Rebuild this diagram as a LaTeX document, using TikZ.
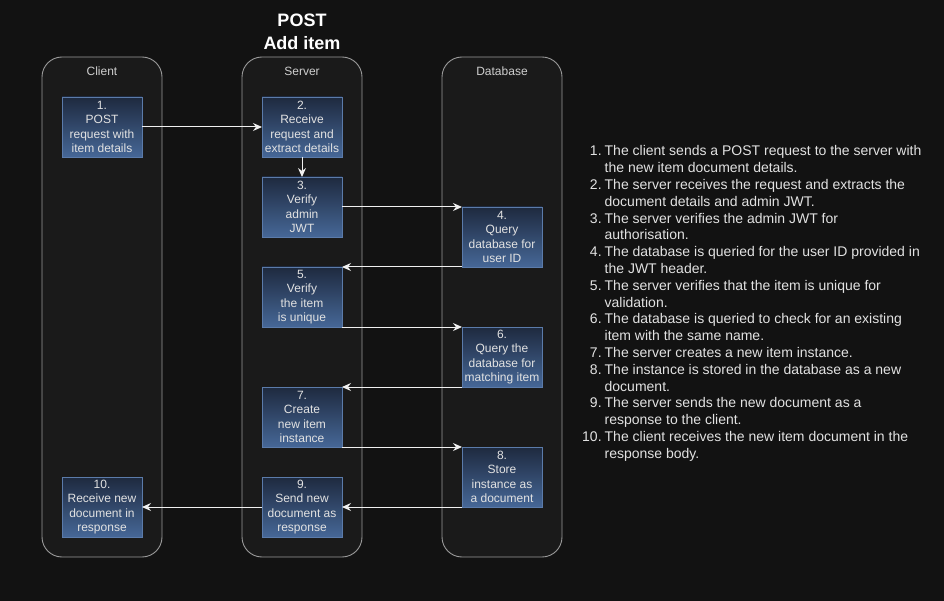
\documentclass[tikz,border=0pt]{standalone}
\usepackage{fontspec}
\setmainfont{Liberation Sans}
\usetikzlibrary{arrows.meta}
\definecolor{bgc}{HTML}{121212}
\definecolor{lanefill}{HTML}{1A1A1A}
\definecolor{laneborder}{HTML}{9A9A9A}
\definecolor{boxtop}{HTML}{1E2A3F}
\definecolor{boxbot}{HTML}{466797}
\definecolor{boxborder}{HTML}{5B7BAA}
\definecolor{txt}{HTML}{E2E2E2}
\definecolor{lanetxt}{HTML}{CFCFCF}
\definecolor{arrc}{HTML}{F0F0F0}
\tikzset{
  lane/.style={draw=laneborder, fill=lanefill, line width=0.9pt, rounded corners=20pt,
    minimum width=120pt, minimum height=500pt, inner sep=0pt},
  lanelabel/.style={text=lanetxt, font=\fontsize{12}{14.4}\selectfont, inner sep=0pt},
  stepbox/.style={draw=boxborder, line width=0.9pt, top color=boxtop, bottom color=boxbot,
    minimum width=80pt, minimum height=60pt, inner sep=0pt, outer sep=0pt, text=txt, align=center,
    font=\fontsize{12}{14.4}\selectfont},
  arr/.style={draw=arrc, line width=1pt, -{Stealth[length=9pt,width=8pt,inset=3pt]}},
}
\begin{document}
\begin{tikzpicture}[x=1pt,y=-1pt]
\fill[bgc] (0,0) rectangle (944,601);
\useasboundingbox (0,0) rectangle (944,601);
% title
\node[text=white, font=\bfseries\fontsize{18}{23}\selectfont, align=center, inner sep=0pt] (title) at (302,31.5) {POST\\Add item};
% lanes
\node[lane] (client) at (102,307) {};
\node[lane] (server) at (302,307) {};
\node[lane] (database) at (502,307) {};
\node[lanelabel] (clientl) at (102,71) {Client};
\node[lanelabel] (serverl) at (302,71) {Server};
\node[lanelabel] (databasel) at (502,71) {Database};
% boxes
\node[stepbox] (b1) at (102,127) {1.\\POST\\request with\\item details};
\node[stepbox] (b2) at (302,127) {2.\\Receive\\request and\\extract details};
\node[stepbox] (b3) at (302,207) {3.\\Verify\\admin\\JWT};
\node[stepbox] (b4) at (502,237) {4.\\Query\\database for\\user ID};
\node[stepbox] (b5) at (302,297) {5.\\Verify\\the item\\is unique};
\node[stepbox] (b6) at (502,357) {6.\\Query the\\database for\\matching item};
\node[stepbox] (b7) at (302,417) {7.\\Create\\new item\\instance};
\node[stepbox] (b8) at (502,477) {8.\\Store\\instance as\\a document};
\node[stepbox] (b9) at (302,507) {9.\\Send new\\document as\\response};
\node[stepbox] (b10) at (102,507) {10.\\Receive new\\document in\\response};
% connectors
\draw[arr] (b1.east) -- (b2.west);
\draw[arr] (b2.south) -- (b3.north);
\draw[arr] (b3.east) -- (b4.north west);
\draw[arr] (b4.south west) -- (b5.north east);
\draw[arr] (b5.south east) -- (b6.north west);
\draw[arr] (b6.south west) -- (b7.north east);
\draw[arr] (b7.south east) -- (b8.north west);
\draw[arr] (b8.south west) -- (b9.east);
\draw[arr] (b9.west) -- (b10.east);
% description list
\node[anchor=north west, inner sep=0pt, text=txt, font=\fontsize{14}{16.8}\selectfont] (desc) at (582,144) {%
\begin{tabular}{@{}r@{\hspace{3pt}}l@{}}
1. & The client sends a POST request to the server with\\
   & the new item document details.\\
2. & The server receives the request and extracts the\\
   & document details and admin JWT.\\
3. & The server verifies the admin JWT for\\
   & authorisation.\\
4. & The database is queried for the user ID provided in\\
   & the JWT header.\\
5. & The server verifies that the item is unique for\\
   & validation.\\
6. & The database is queried to check for an existing\\
   & item with the same name.\\
7. & The server creates a new item instance.\\
8. & The instance is stored in the database as a new\\
   & document.\\
9. & The server sends the new document as a\\
   & response to the client.\\
10. & The client receives the new item document in the\\
   & response body.
\end{tabular}};
\end{tikzpicture}
\end{document}
